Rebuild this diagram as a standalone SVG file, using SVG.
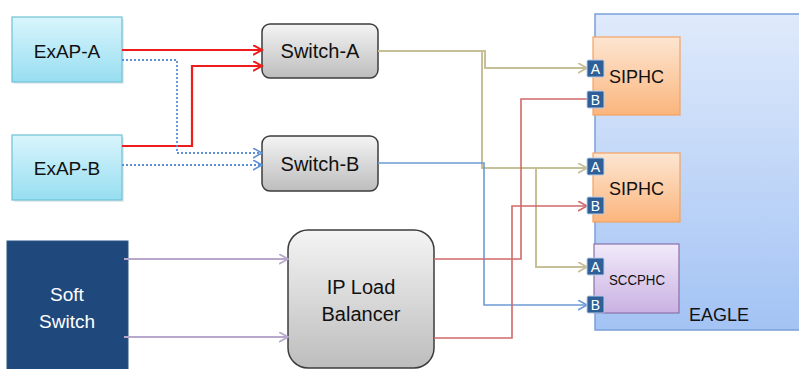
<svg xmlns="http://www.w3.org/2000/svg" width="799" height="369" viewBox="0 0 799 369">
<style>
text{font-family:"Liberation Sans",Arial,sans-serif;fill:#111;}
.lbl{font-size:19px;text-anchor:middle;}
.sw{font-size:20px;text-anchor:middle;}
.wt{fill:#fff;font-size:19px;text-anchor:middle;}
.port rect{fill:#2f5f98;stroke:#b7cbe6;stroke-width:1;}
.port text{fill:#fff;font-size:14px;text-anchor:middle;}
.red{stroke:#ee1c1c;stroke-width:2.2;fill:none;}
.dot{stroke:#5b8fd6;stroke-width:1.8;fill:none;stroke-dasharray:2 2;}
.olive{stroke:#c6bf98;stroke-width:2;fill:none;}
.blue{stroke:#6d9bd6;stroke-width:1.6;fill:none;}
.brick{stroke:#d06a68;stroke-width:1.6;fill:none;}
.purp{stroke:#b8a8cc;stroke-width:2;fill:none;}
</style>
<defs>
<linearGradient id="gCyan" x1="0" y1="0" x2="0" y2="1"><stop offset="0" stop-color="#d9f5fc"/><stop offset="1" stop-color="#97def1"/></linearGradient>
<linearGradient id="gGray" x1="0" y1="0" x2="0" y2="1"><stop offset="0" stop-color="#f4f4f4"/><stop offset="1" stop-color="#bdbdbd"/></linearGradient>
<linearGradient id="gEagle" x1="0" y1="0" x2="0" y2="1"><stop offset="0" stop-color="#dfeafb"/><stop offset="1" stop-color="#a3c3f4"/></linearGradient>
<linearGradient id="gOrange" x1="0" y1="0" x2="0" y2="1"><stop offset="0" stop-color="#fde6d2"/><stop offset="1" stop-color="#fbb57c"/></linearGradient>
<linearGradient id="gPurple" x1="0" y1="0" x2="0" y2="1"><stop offset="0" stop-color="#f2eafa"/><stop offset="1" stop-color="#c9b1e2"/></linearGradient>
<marker id="aRed" markerUnits="userSpaceOnUse" markerWidth="12" markerHeight="12" refX="9" refY="5" orient="auto"><path d="M0,0 L9,5 L0,10" fill="none" stroke="#ee1c1c" stroke-width="2"/></marker>
<marker id="aDot" markerUnits="userSpaceOnUse" markerWidth="12" markerHeight="12" refX="9" refY="5" orient="auto"><path d="M0,0 L9,5 L0,10" fill="none" stroke="#5b8fd6" stroke-width="1.6"/></marker>
<marker id="aOlive" markerUnits="userSpaceOnUse" markerWidth="12" markerHeight="12" refX="9" refY="5" orient="auto"><path d="M0,0 L9,5 L0,10" fill="none" stroke="#c6bf98" stroke-width="1.8"/></marker>
<marker id="aBlue" markerUnits="userSpaceOnUse" markerWidth="12" markerHeight="12" refX="9" refY="5" orient="auto"><path d="M0,0 L9,5 L0,10" fill="none" stroke="#6d9bd6" stroke-width="1.6"/></marker>
<marker id="aBrick" markerUnits="userSpaceOnUse" markerWidth="12" markerHeight="12" refX="9" refY="5" orient="auto"><path d="M0,0 L9,5 L0,10" fill="none" stroke="#d06a68" stroke-width="1.6"/></marker>
<marker id="aPurp" markerUnits="userSpaceOnUse" markerWidth="12" markerHeight="12" refX="9" refY="5" orient="auto"><path d="M0,0 L9,5 L0,10" fill="none" stroke="#b8a8cc" stroke-width="1.8"/></marker>
</defs>
<rect width="799" height="369" fill="#fff"/>

<g id="eagle">
<rect x="595" y="14" width="210" height="316" fill="url(#gEagle)" stroke="#7aa0d8" stroke-width="1.5"/>
<text x="689" y="321" style="font-size:18px">EAGLE</text>
</g>

<g id="exap-a">
<rect x="14" y="19" width="110" height="65" fill="#cfd8dc" opacity="0.5"/>
<rect x="12" y="17" width="110" height="65" fill="url(#gCyan)" stroke="#6fc2d6" stroke-width="1.2"/>
<text class="lbl" x="67" y="58">ExAP-A</text>
</g>
<g id="exap-b">
<rect x="14" y="137" width="110" height="65" fill="#cfd8dc" opacity="0.5"/>
<rect x="12" y="135" width="110" height="65" fill="url(#gCyan)" stroke="#6fc2d6" stroke-width="1.2"/>
<text class="lbl" x="67" y="175">ExAP-B</text>
</g>
<g id="switch-a">
<rect x="262" y="24" width="116" height="54" rx="8" fill="url(#gGray)" stroke="#3c3c3c" stroke-width="1.5"/>
<text class="sw" x="320" y="58">Switch-A</text>
</g>
<g id="switch-b">
<rect x="262" y="136" width="116" height="55" rx="8" fill="url(#gGray)" stroke="#3c3c3c" stroke-width="1.5"/>
<text class="sw" x="320" y="171">Switch-B</text>
</g>
<g id="soft-switch">
<rect x="7" y="241" width="121" height="135" fill="#1f497d" stroke="#2c5788" stroke-width="1"/>
<text class="wt" x="67" y="301">Soft</text>
<text class="wt" x="67" y="328">Switch</text>
</g>
<g id="ip-lb">
<rect x="288" y="230" width="146" height="138" rx="20" fill="url(#gGray)" stroke="#3c3c3c" stroke-width="1.5"/>
<text class="sw" x="361" y="294">IP Load</text>
<text class="sw" x="361" y="321">Balancer</text>
</g>
<g id="siphc-1">
<rect x="593" y="37" width="87" height="78" fill="url(#gOrange)" stroke="#f3a262" stroke-width="1.2"/>
<text x="609" y="83" style="font-size:18px">SIPHC</text>
</g>
<g id="siphc-2">
<rect x="593" y="153" width="87" height="69" fill="url(#gOrange)" stroke="#f3a262" stroke-width="1.2"/>
<text x="609" y="195" style="font-size:18px">SIPHC</text>
</g>
<g id="sccphc">
<rect x="594" y="244" width="85" height="69" fill="url(#gPurple)" stroke="#8a70aa" stroke-width="1.2"/>
<text x="609" y="285" style="font-size:14px" textLength="56" lengthAdjust="spacingAndGlyphs">SCCPHC</text>
</g>

<g id="connectors">
<path class="red" d="M122,50 H262" marker-end="url(#aRed)"/>
<path class="red" d="M122,146 H192 V66 H262" marker-end="url(#aRed)"/>
<path class="dot" d="M122,60 H177 V153 H262" marker-end="url(#aDot)"/>
<path class="dot" d="M122,165 H262" marker-end="url(#aDot)"/>
<path class="olive" d="M378,51 H485 V68 H587" marker-end="url(#aOlive)"/>
<path class="olive" d="M378,51 H482 V168 H587" marker-end="url(#aOlive)"/>
<path class="olive" d="M536,168 V267 H587" marker-end="url(#aOlive)"/>
<path class="blue" d="M378,163 H484 V305 H587" marker-end="url(#aBlue)"/>
<path class="brick" d="M434,259 H521 V99 H588"/>
<path class="brick" d="M434,338 H512 V206 H587" marker-end="url(#aBrick)"/>
<path class="purp" d="M124,259 H288" marker-end="url(#aPurp)"/>
<path class="purp" d="M124,337 H288" marker-end="url(#aPurp)"/>
</g>

<g id="ports">
<g class="port"><rect x="587" y="60" width="17" height="17" rx="1.5"/><text x="595.5" y="73.5">A</text></g>
<g class="port"><rect x="587" y="91" width="17" height="17" rx="1.5"/><text x="595.5" y="104.5">B</text></g>
<g class="port"><rect x="587" y="158" width="17" height="17" rx="1.5"/><text x="595.5" y="171.5">A</text></g>
<g class="port"><rect x="587" y="197" width="17" height="17" rx="1.5"/><text x="595.5" y="210.5">B</text></g>
<g class="port"><rect x="587" y="258" width="17" height="17" rx="1.5"/><text x="595.5" y="271.5">A</text></g>
<g class="port"><rect x="587" y="296" width="17" height="17" rx="1.5"/><text x="595.5" y="309.5">B</text></g>
</g>
</svg>
